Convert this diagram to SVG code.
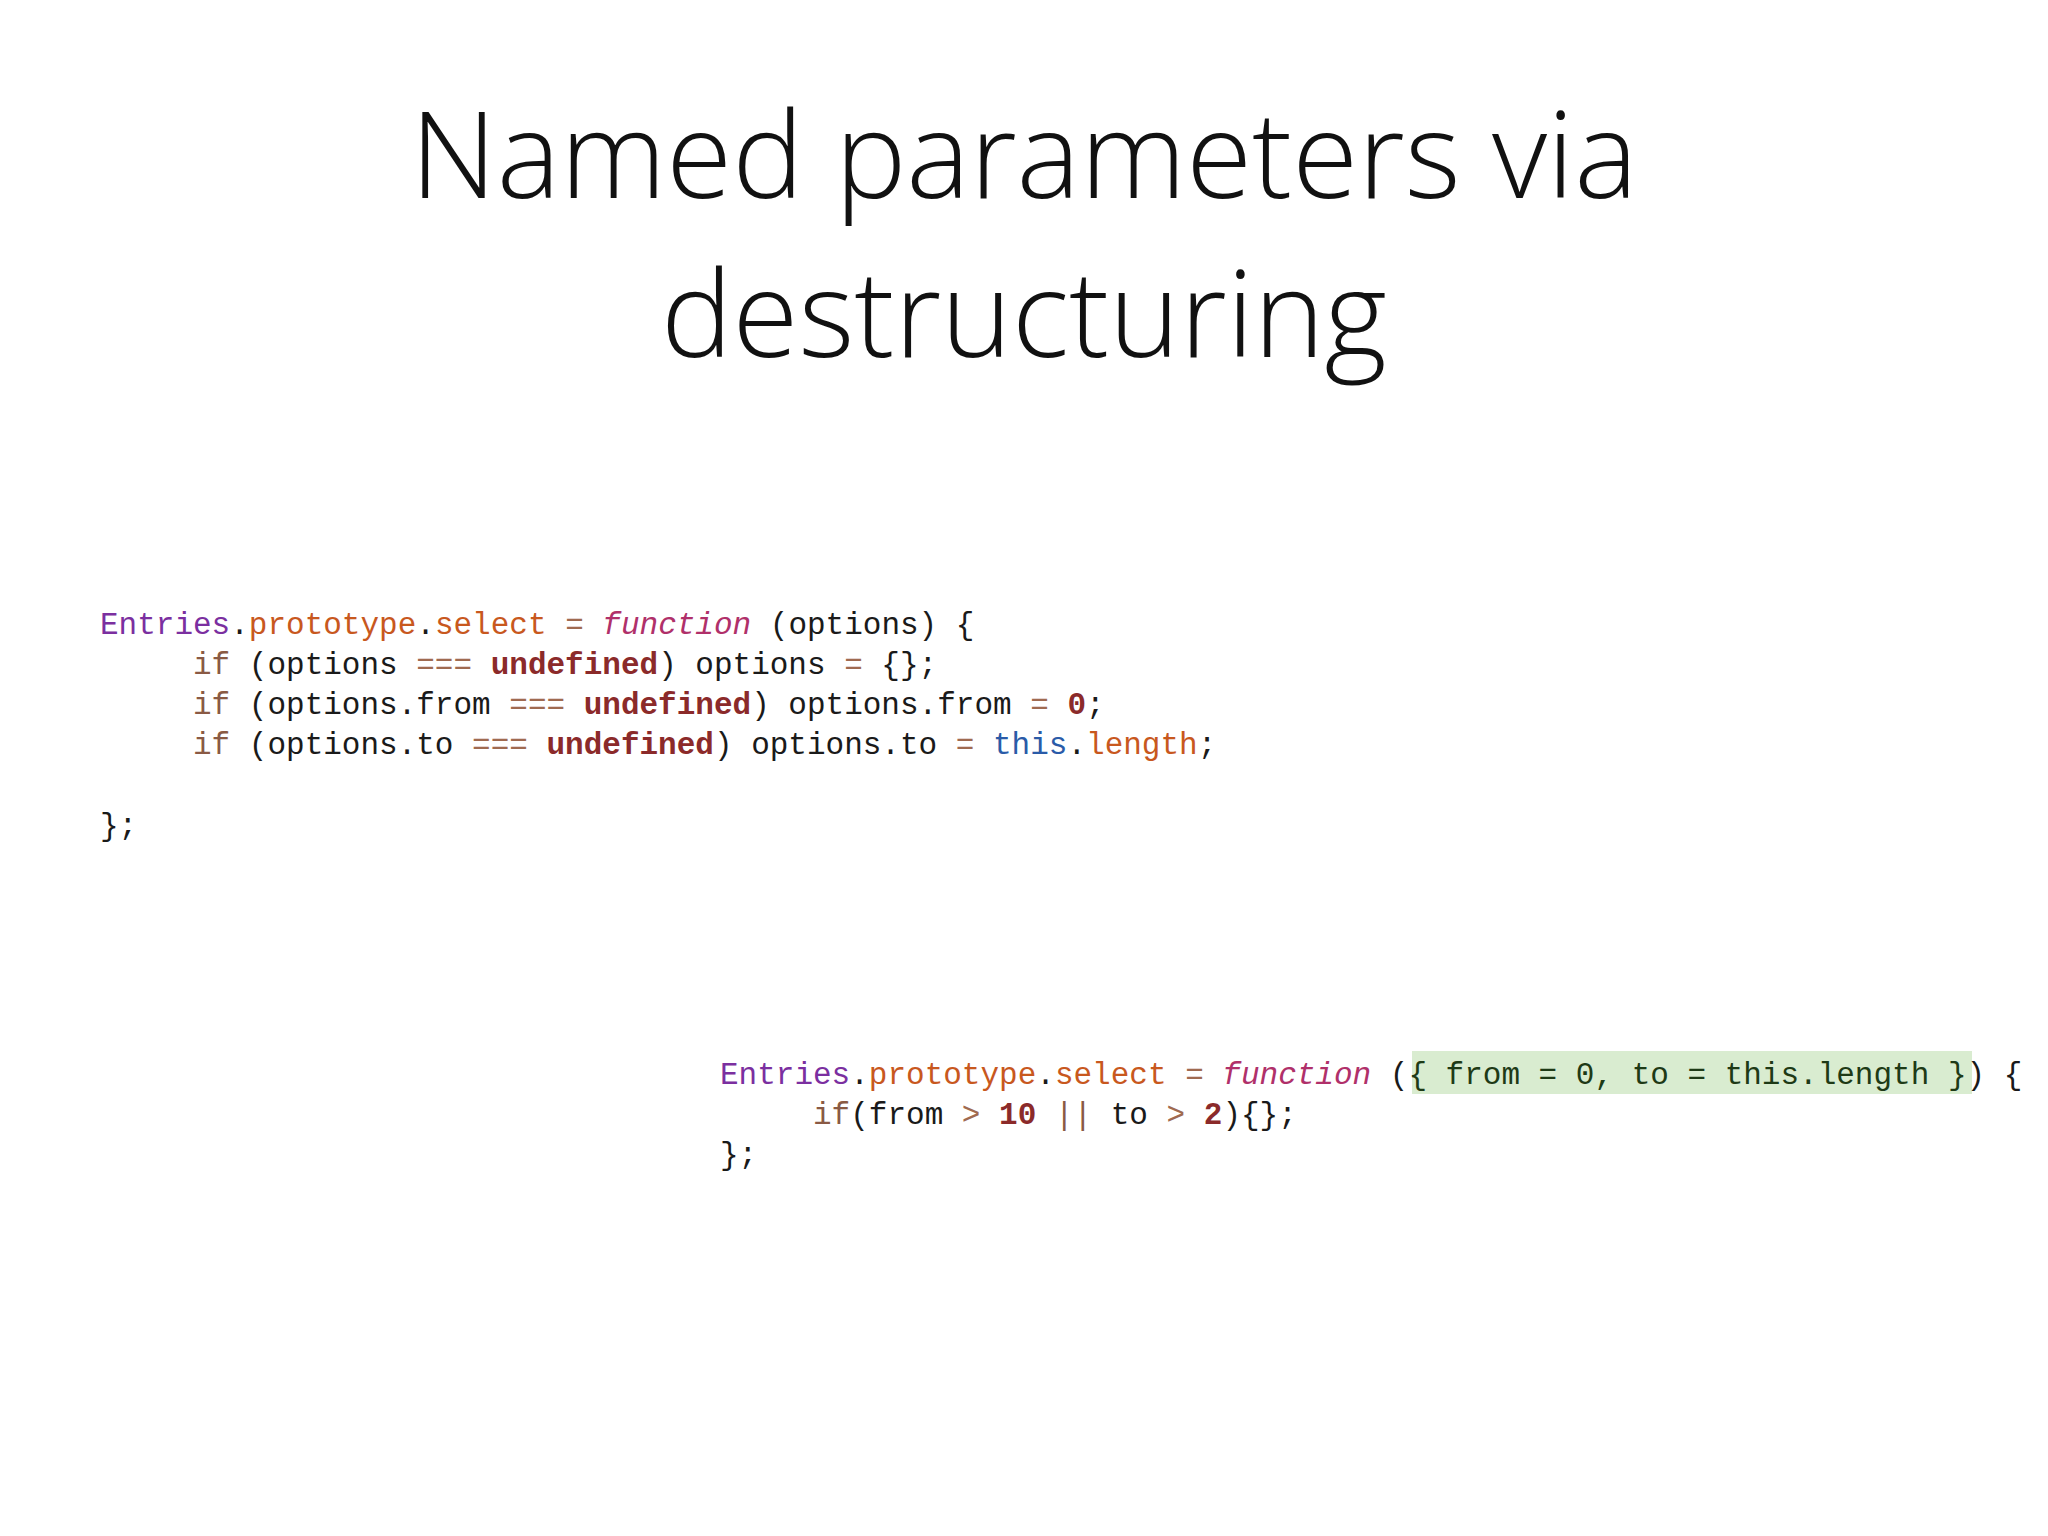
<svg xmlns="http://www.w3.org/2000/svg" width="2048" height="1536" viewBox="0 0 2048 1536">
<style>
.t{font-family:"Open Sans","Noto Sans",sans-serif;font-size:120px;font-weight:300;fill:#111;text-anchor:middle}
.c{font-family:"Liberation Mono","DejaVu Sans Mono",monospace;font-size:31px;fill:#1a1a1a;white-space:pre}
.p{fill:#7b2fa0}.o{fill:#c8581e}.op{fill:#a06a50}.f{fill:#b0306a;font-style:italic}.k{fill:#8a5a44}.u{fill:#8b2a2a;font-weight:bold}.b{fill:#2a5ba8}.g{fill:#1e3a16}
</style>
<rect width="2048" height="1536" fill="#fff"/>
<g id="title">
<text class="t" x="1024" y="198">Named parameters via</text>
<text class="t" x="1024" y="357">destructuring</text>
</g>
<g id="code1">
<text class="c" x="100" y="634" xml:space="preserve"><tspan class="p">Entries</tspan>.<tspan class="o">prototype</tspan>.<tspan class="o">select</tspan> <tspan class="op">=</tspan> <tspan class="f">function</tspan> (options) {</text>
<text class="c" x="100" y="674" xml:space="preserve">     <tspan class="k">if</tspan> (options <tspan class="op">===</tspan> <tspan class="u">undefined</tspan>) options <tspan class="op">=</tspan> {};</text>
<text class="c" x="100" y="714" xml:space="preserve">     <tspan class="k">if</tspan> (options.from <tspan class="op">===</tspan> <tspan class="u">undefined</tspan>) options.from <tspan class="op">=</tspan> <tspan class="u">0</tspan>;</text>
<text class="c" x="100" y="754" xml:space="preserve">     <tspan class="k">if</tspan> (options.to <tspan class="op">===</tspan> <tspan class="u">undefined</tspan>) options.to <tspan class="op">=</tspan> <tspan class="b">this</tspan>.<tspan class="o">length</tspan>;</text>
<text class="c" x="100" y="835">};</text>
</g>
<g id="code2">
<rect x="1412" y="1051" width="560" height="43" fill="#d9ecd0"/>
<text class="c" x="720" y="1084" xml:space="preserve"><tspan class="p">Entries</tspan>.<tspan class="o">prototype</tspan>.<tspan class="o">select</tspan> <tspan class="op">=</tspan> <tspan class="f">function</tspan> (<tspan class="g">{ from = 0, to = this.length }</tspan>) {</text>
<text class="c" x="720" y="1124" xml:space="preserve">     <tspan class="k">if</tspan>(from <tspan class="op">&gt;</tspan> <tspan class="u">10</tspan> <tspan class="k">||</tspan> to <tspan class="op">&gt;</tspan> <tspan class="u">2</tspan>){};</text>
<text class="c" x="720" y="1164">};</text>
</g>
</svg>
